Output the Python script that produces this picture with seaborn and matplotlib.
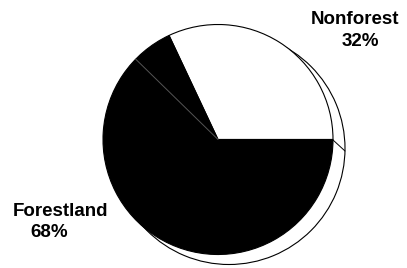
import matplotlib
matplotlib.use("Agg")
import matplotlib.pyplot as plt
import seaborn as sns
import numpy as np

categories = ["Nonforest", "Forestland"]
shares = [32, 68]
pct_labels = ["32%", "68%"]

sns.set_theme(style="white")
plt.rcParams['font.family'] = ['Liberation Sans', 'DejaVu Sans']

W, H = 407, 268
fig = plt.figure(figsize=(W / 100, H / 100), dpi=100)
ax = fig.add_axes([0, 0, 1, 1])

cx, cy, r = 218, 128.5, 115

# shadow / depth outline behind the pie
ax.pie([1], colors=['white'], center=(229, 119.5), radius=116,
       wedgeprops=dict(edgecolor='black', linewidth=0.8), frame=True)
ax.plot([333, 345], [H - 140, H - 151], color='black', lw=0.7, zorder=1)

wedges, _ = ax.pie(shares, colors=['white', 'black'], startangle=0,
                   counterclock=True, center=(cx, cy), radius=r,
                   wedgeprops=dict(edgecolor='black', linewidth=0.8), frame=True)
for w in wedges:
    w.set_zorder(2)

# faint inner division line in the forest slice
ang = np.deg2rad(135.7)
ax.plot([cx, cx + r * np.cos(ang)], [cy, cy + r * np.sin(ang)],
        color='#555555', lw=0.7, zorder=3)

ax.set_xlim(0, W)
ax.set_ylim(0, H)
ax.set_aspect('equal')
ax.axis('off')

fs = 13.5
ax.text(355, H - 24, categories[0], ha='center', va='baseline',
        fontsize=fs, fontweight='bold', color='black')
ax.text(360, H - 46, pct_labels[0], ha='center', va='baseline',
        fontsize=fs, fontweight='bold', color='black')
ax.text(60, H - 216, categories[1], ha='center', va='baseline',
        fontsize=fs, fontweight='bold', color='black')
ax.text(49, H - 237, pct_labels[1], ha='center', va='baseline',
        fontsize=fs, fontweight='bold', color='black')

fig.savefig("out.png", dpi=100, facecolor='white')
